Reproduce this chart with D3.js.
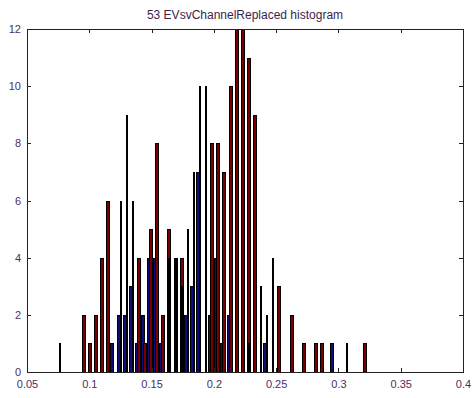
<!DOCTYPE html>
<html><head><meta charset="utf-8">
<script src="https://cdn.jsdelivr.net/npm/d3@7"></script>
<style>html,body{margin:0;padding:0;background:#fff;} svg{display:block}</style>
</head><body>
<svg id="c" width="472" height="398"></svg>
<script>
const title = "53 EVsvChannelReplaced histogram";
const xTicks = [0.05,0.1,0.15,0.2,0.25,0.3,0.35,0.4];
const xTickLabels = ["0.05","0.1","0.15","0.2","0.25","0.3","0.35","0.4"];
const yTicks = [0,2,4,6,8,10,12];
const yTickLabels = ["0","2","4","6","8","10","12"];
const blueX = [0.12024,0.12515,0.13005,0.13496,0.13986,0.14477,0.14967,0.15458,0.15948,0.17910,0.18401,0.18891,0.19872,0.20363,0.20853,0.21344,0.24287,0.29682];
const blueY = [1,2,2,3,1,2,4,4,1,2,3,7,2,4,1,2,1,1];
const blackX = [0.07610,0.12515,0.13005,0.13496,0.16439,0.16929,0.17420,0.17910,0.18401,0.18891,0.19382,0.22815,0.23796,0.24287,0.24777,0.30663];
const blackY = [1,6,9,6,4,4,3,5,7,10,10,1,3,2,4,1];
const redX = [0.09572,0.10062,0.10553,0.11043,0.11534,0.13986,0.14477,0.14967,0.15458,0.15948,0.16439,0.16929,0.17420,0.19872,0.20363,0.20853,0.21344,0.21834,0.22325,0.22815,0.23306,0.25268,0.26249,0.27230,0.28211,0.28701,0.32135];
const redY = [2,1,2,4,6,4,1,5,8,2,5,4,4,8,8,7,10,12,12,11,9,3,2,1,1,1,1];

const L = 27, R = 463, T = 29, B = 372;
const svg = d3.select("#c");
const x = d3.scaleLinear().domain([0.05,0.4]).range([L,R]);
const y = d3.scaleLinear().domain([0,12]).range([B,T]);
const font = "'Liberation Sans', Arial, sans-serif";
const labelColor = "#4e2e63";

svg.append("rect").attr("width",472).attr("height",398).attr("fill","#fff");

const zip = (xs, ys) => xs.map((v,i)=>({x:v, y:ys[i]}));
const plot = svg.append("g").attr("shape-rendering","crispEdges");

function bars(data, cls, shift, fill){
  const g = plot.append("g").attr("class", cls);
  const top = d => Math.round(y(d.y));
  g.selectAll("rect.o").data(data).join("rect").attr("class","o")
    .attr("x", d => Math.round(x(d.x)) + shift)
    .attr("width", 4)
    .attr("y", top)
    .attr("height", d => B - top(d))
    .attr("fill","#000");
  g.selectAll("rect.i").data(data).join("rect").attr("class","i")
    .attr("x", d => Math.round(x(d.x)) + shift + 1)
    .attr("width", 2)
    .attr("y", d => top(d) + 1)
    .attr("height", d => B - top(d) - 1)
    .attr("fill", fill);
}
bars(zip(blueX,blueY), "blue", -4, "#0c0c7a");
bars(zip(redX,redY), "red", -2, "#7a0000");

// black series (thin lines)
plot.append("g").selectAll("rect").data(zip(blackX,blackY)).join("rect")
  .attr("x", d => Math.round(x(d.x)) - 1)
  .attr("width", 1.5)
  .attr("y", d => Math.round(y(d.y)))
  .attr("height", d => B - Math.round(y(d.y)))
  .attr("fill","#000");

// axes
const xb = d3.axisBottom(x).tickValues(xTicks).tickFormat((d,i)=>xTickLabels[i])
  .tickSizeInner(-4).tickSizeOuter(0).tickPadding(8.5);
const xt = d3.axisTop(x).tickValues(xTicks).tickFormat("").tickSizeInner(-4).tickSizeOuter(0);
const yl = d3.axisLeft(y).tickValues(yTicks).tickFormat((d,i)=>yTickLabels[i])
  .tickSizeInner(-4).tickSizeOuter(0).tickPadding(6);
const yr = d3.axisRight(y).tickValues(yTicks).tickFormat("").tickSizeInner(-4).tickSizeOuter(0);

function style(g){
  g.selectAll("path,line").attr("stroke","#222").attr("shape-rendering","crispEdges");
  g.selectAll("text").attr("fill",labelColor).style("font-family",font).style("font-size","11px");
}
svg.append("g").attr("transform",`translate(0,${B})`).call(xb).call(style);
svg.append("g").attr("transform",`translate(0,${T})`).call(xt).call(style);
svg.append("g").attr("transform",`translate(${L},0)`).call(yl).call(style);
svg.append("g").attr("transform",`translate(${R},0)`).call(yr).call(style);

svg.append("text").attr("x",(L+R)/2).attr("y",19).attr("text-anchor","middle")
  .attr("fill","#3c1f4c").style("font-family",font).style("font-size","12px").text(title);
</script>
</body></html>
